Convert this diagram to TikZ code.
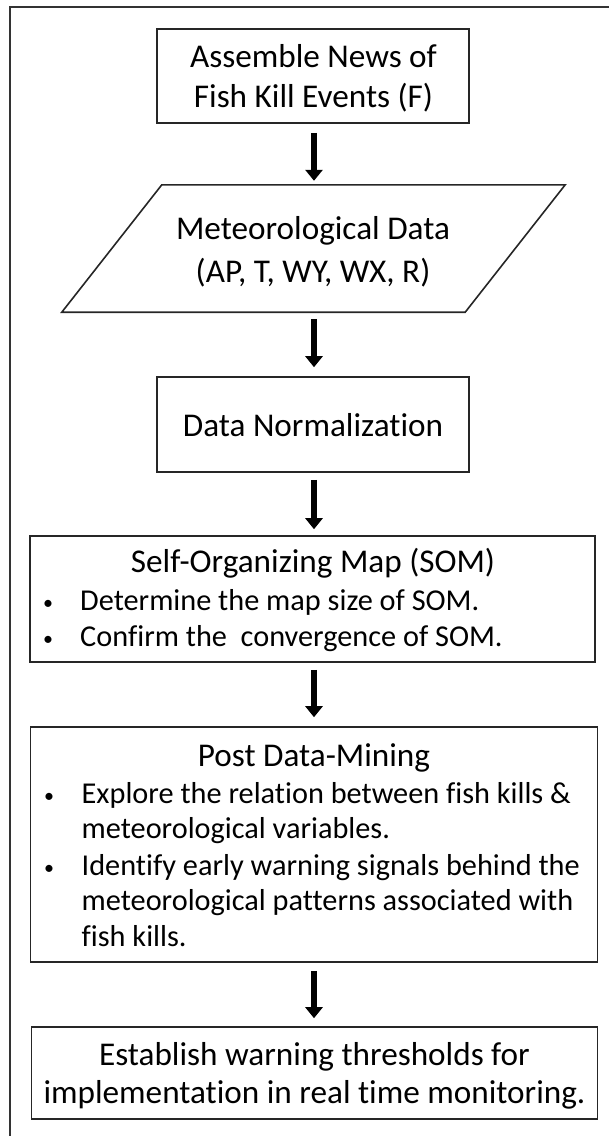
\documentclass[tikz,border=0pt]{standalone}
\usepackage{fontspec}
\setmainfont{Carlito}[Ligatures=NoCommon]
\usetikzlibrary{arrows.meta}
\begin{document}
\begin{tikzpicture}[x=1pt,y=-1pt,
  box/.style={draw=black!85,line width=1.6pt,inner sep=0pt,minimum width=#1},
  big/.style={font=\fontsize{33.2}{40}\selectfont,inner sep=0pt,anchor=base},
  small/.style={font=\fontsize{30.3}{36}\selectfont,inner sep=0pt,anchor=base west},
  bul/.style={font=\fontsize{20}{24}\selectfont,inner sep=0pt,anchor=base},
  flow/.style={line width=6.5pt,-{Triangle[width=17pt,length=11pt]},shorten <=7pt,shorten >=6pt}]
\useasboundingbox (0,0) rectangle (609,1136);
\draw[line width=1.3pt,black!80] (10,1136) -- (10,7) -- (609,7);
% boxes
\node[box=312pt,minimum height=94pt] (b1) at (313,76) {};
\node[inner sep=0pt,minimum width=503pt,minimum height=127pt] (b2) at (313.5,248.5) {};
\draw[draw=black!85,line width=1.6pt] ([xshift=100pt]b2.north west) -- (b2.north east) -- ([xshift=-100pt]b2.south east) -- (b2.south west) -- cycle;
\node[box=312pt,minimum height=95pt] (b3) at (313,424.5) {};
\node[box=565pt,minimum height=126pt] (b4) at (312.5,599) {};
\node[box=567pt,minimum height=235pt] (b5) at (314,844.5) {};
\node[box=566pt,minimum height=92pt] (b6) at (314.5,1073) {};
% texts
\node[big] (t1a) at (313.5,67) {Assemble News of};
\node[big] (t1b) at (313.5,107) {Fish Kill Events (F)};
\node[big] (t2a) at (313,239) {Meteorological Data};
\node[big] (t2b) at (313,282) {(AP, T, WY, WX, R)};
\node[big] (t3) at (313,436) {Data Normalization};
\node[big] (t4) at (313,572) {Self-Organizing Map (SOM)};
\node[bul] (d4a) at (48,609) {•};
\node[small] (t4a) at (80,610) {Determine the map size of SOM.};
\node[bul] (d4b) at (48,645) {•};
\node[small] (t4b) at (80,646) {Confirm the\ \ convergence of SOM.};
\node[big] (t5) at (314,766) {Post Data-Mining};
\node[bul] (d5a) at (49,802) {•};
\node[small] (t5a) at (81.5,803) {Explore the relation between fish kills \&};
\node[small] (t5b) at (81.5,838) {meteorological variables.};
\node[bul] (d5b) at (49,874) {•};
\node[small] (t5c) at (81.5,875) {Identify early warning signals behind the};
\node[small] (t5d) at (81.5,910) {meteorological patterns associated with};
\node[small] (t5e) at (81.5,946) {fish kills.};
\node[big] (t6a) at (314.5,1065) {Establish warning thresholds for};
\node[big] (t6b) at (314.5,1103) {implementation in real time monitoring.};
% arrows
\coordinate (x) at (314,0);
\draw[flow,shorten <=9pt,shorten >=4pt] (b1.south -| x) -- (b2.north -| x);
\draw[flow,shorten >=9pt] (b2.south -| x) -- (b3.north -| x);
\draw[flow] (b3.south -| x) -- (b4.north -| x);
\draw[flow,shorten >=9pt] (b4.south -| x) -- (b5.north -| x);
\draw[flow,shorten <=8pt,shorten >=8pt] (b5.south -| x) -- (b6.north -| x);
\end{tikzpicture}
\end{document}
